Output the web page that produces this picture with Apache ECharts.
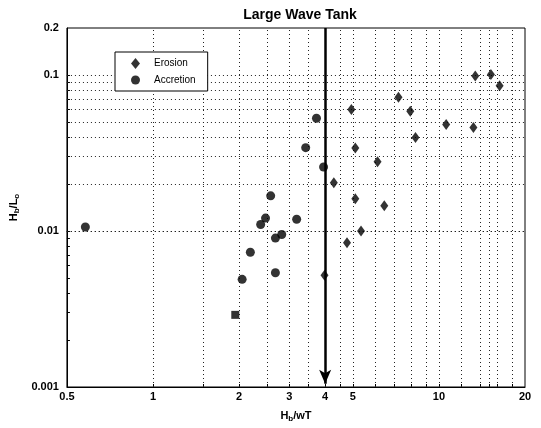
<!DOCTYPE html>
<html>
<head>
<meta charset="utf-8">
<script src="https://cdn.jsdelivr.net/npm/echarts@6/dist/echarts.min.js"></script>
<style>
  html, body { margin: 0; padding: 0; background: #fff; }
  #chart { width: 541px; height: 428px; }
</style>
</head>
<body>
<div id="chart"></div>
<script>
// erosion points (diamonds): [Hb/wT, Hb/Lo]
var erosion = [
  [3.98, 0.0052], [4.29, 0.0204], [4.77, 0.0084], [4.94, 0.060], [5.1, 0.034],
  [5.1, 0.0161], [5.34, 0.0100], [6.1, 0.0278], [6.44, 0.0145], [7.22, 0.072],
  [7.94, 0.0585], [8.28, 0.0398], [10.6, 0.0482], [13.2, 0.046], [13.4, 0.0986],
  [15.2, 0.1006], [16.3, 0.0853]
];
// accretion points (circles)
var accretion = [
  [0.58, 0.0106], [2.05, 0.0049], [2.19, 0.0073], [2.38, 0.0110], [2.475, 0.0121],
  [2.58, 0.0168], [2.68, 0.0090], [2.68, 0.0054], [2.82, 0.0095], [3.18, 0.0119],
  [3.42, 0.0342], [3.73, 0.0528], [3.95, 0.0257]
];
// the one point drawn as a square
var squarePts = [[1.94, 0.0029]];

var xTicks = [0.5, 1, 2, 3, 4, 5, 10, 20];
var yTicks = [0.001, 0.01, 0.1, 0.2];
var xGrid = [1, 1.5, 2, 2.5, 3, 3.5, 4, 4.5, 5, 6, 7, 8, 9, 10, 12, 14, 15, 16, 18];
var yGrid = [0.002, 0.003, 0.004, 0.005, 0.006, 0.007, 0.008, 0.009, 0.01,
  0.02, 0.03, 0.04, 0.05, 0.06, 0.07, 0.08, 0.09, 0.1];
var arrowX = 4;
var arrowFrom = 0.2, arrowTo = 0.00105;

var font = 'Liberation Sans, Arial, Helvetica, sans-serif';

function fmt(v) {
  return String(parseFloat(Number(v).toPrecision(6)));
}

var gridLines = [];
for (var i = 0; i < xGrid.length; i++) gridLines.push({ xAxis: xGrid[i] });
for (var j = 0; j < yGrid.length; j++) gridLines.push({ yAxis: yGrid[j] });

var myChart = echarts.init(document.getElementById('chart'));
var option = {
  animation: false,
  backgroundColor: '#fff',
  title: {
    text: 'Large Wave Tank',
    left: 295,
    textAlign: 'center',
    top: 3,
    textStyle: { fontFamily: font, fontSize: 14, fontWeight: 'bold', color: '#000' }
  },
  legend: {
    data: ['Erosion', 'Accretion'],
    orient: 'vertical',
    left: 115,
    top: 52,
    padding: [6, 12, 6, 16],
    itemWidth: 9,
    itemHeight: 11,
    itemGap: 6,
    backgroundColor: '#fff',
    borderColor: '#000',
    borderWidth: 1,
    borderRadius: 0,
    textStyle: { fontFamily: font, fontSize: 10, color: '#000', padding: [0, 0, 0, 9] }
  },
  grid: {
    left: 65, right: 16, top: 28, bottom: 35,
    show: true, borderColor: '#000', borderWidth: 1, backgroundColor: 'transparent'
  },
  xAxis: {
    type: 'log',
    logBase: 10,
    min: 0.5,
    max: 20,
    name: '{m|H}{s|b}{m|/wT}',
    nameLocation: 'middle',
    nameGap: 22,
    nameTextStyle: {
      rich: {
        m: { fontFamily: font, fontSize: 11, fontWeight: 'bold', color: '#000', lineHeight: 14 },
        s: { fontFamily: font, fontSize: 8, fontWeight: 'bold', color: '#000', lineHeight: 8, verticalAlign: 'bottom' }
      }
    },
    axisLine: { show: true, lineStyle: { color: '#000', width: 1 } },
    axisTick: { show: true, inside: true, length: 3, customValues: xGrid, lineStyle: { color: '#000' } },
    axisLabel: {
      customValues: xTicks,
      margin: 4,
      formatter: fmt,
      fontFamily: font, fontSize: 11, fontWeight: 'bold', color: '#000'
    },
    splitLine: { show: false },
    minorTick: { show: false },
    minorSplitLine: { show: false }
  },
  yAxis: {
    type: 'log',
    logBase: 10,
    min: 0.001,
    max: 0.2,
    name: '{m|H}{s|b}{m|/L}{s|o}',
    nameLocation: 'middle',
    nameGap: 44,
    nameTextStyle: {
      rich: {
        m: { fontFamily: font, fontSize: 11, fontWeight: 'bold', color: '#000', lineHeight: 14 },
        s: { fontFamily: font, fontSize: 8, fontWeight: 'bold', color: '#000', lineHeight: 8, verticalAlign: 'bottom' }
      }
    },
    axisLine: { show: true, lineStyle: { color: '#000', width: 1 } },
    axisTick: { show: true, inside: true, length: 3, customValues: yGrid, lineStyle: { color: '#000' } },
    axisLabel: {
      customValues: yTicks,
      margin: 8,
      formatter: fmt,
      fontFamily: font, fontSize: 11, fontWeight: 'bold', color: '#000'
    },
    splitLine: { show: false },
    minorTick: { show: false },
    minorSplitLine: { show: false }
  },
  series: [
    {
      name: 'gridlines',
      type: 'scatter',
      data: [],
      silent: true,
      z: 1,
      markLine: {
        silent: true,
        z: 1,
        symbol: ['none', 'none'],
        label: { show: false },
        lineStyle: { color: '#222', width: 1, type: [1, 3] },
        emphasis: { disabled: true },
        data: gridLines
      }
    },
    {
      name: 'arrow',
      type: 'scatter',
      data: [],
      silent: true,
      z: 3,
      markLine: {
        silent: true,
        z: 3,
        symbol: ['none', 'arrow'],
        symbolSize: [9, 14],
        label: { show: false },
        lineStyle: { color: '#000', width: 2.5, type: 'solid' },
        emphasis: { disabled: true },
        data: [[{ coord: [arrowX, arrowFrom] }, { coord: [arrowX, arrowTo] }]]
      }
    },
    {
      name: 'Erosion',
      type: 'scatter',
      symbol: 'diamond',
      symbolSize: [8, 11],
      z: 4,
      itemStyle: { color: '#000' },
      data: erosion
    },
    {
      name: 'Accretion',
      type: 'scatter',
      symbol: 'circle',
      symbolSize: 9,
      z: 4,
      itemStyle: { color: '#000' },
      data: accretion
    },
    {
      name: 'square',
      type: 'scatter',
      symbol: 'rect',
      symbolSize: 8,
      z: 4,
      itemStyle: { color: '#000' },
      data: squarePts
    }
  ]
};
myChart.setOption(option);
</script>
</body>
</html>
